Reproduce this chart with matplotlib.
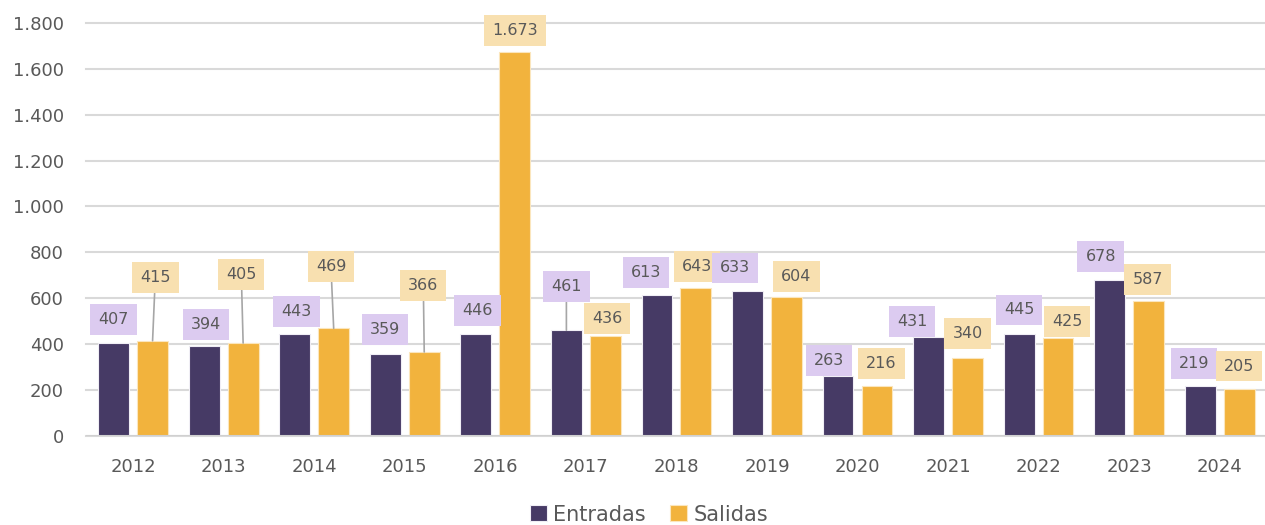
import matplotlib.pyplot as plt
import numpy as np

years = ['2012', '2013', '2014', '2015', '2016', '2017', '2018',
         '2019', '2020', '2021', '2022', '2023', '2024']
entradas = [407, 394, 443, 359, 446, 461, 613, 633, 263, 431, 445, 678, 219]
salidas = [415, 405, 469, 366, 1673, 436, 643, 604, 216, 340, 425, 587, 205]

# where the value boxes sit (x shift from bar centre, y in data units)
ent_lab_dx = [0, 0.02, 0.02, 0, 0.02, 0, -0.12, -0.14, -0.1, -0.18, 0, -0.1, -0.07]
ent_lab_y = [506, 484, 541, 462, 545, 650, 711, 732, 331, 497, 549, 780, 314]
ent_leader = [0, 0, 0, 0, 0, 1, 0, 0, 0, 0, 0, 0, 0]
sal_lab_dx = [0.03, -0.02, -0.03, -0.01, 0, 0.02, 0.01, 0.11, 0.05, 0, 0.1, -0.01, 0]
sal_lab_y = [689, 702, 737, 654, 1765, 514, 737, 693, 314, 445, 497, 680, 305]
sal_leader = [1, 1, 1, 1, 0, 0, 0, 0, 0, 0, 0, 0, 0]

c_ent = '#463a65'
c_sal = '#f2b33d'
box_ent = '#dccbf0'
box_sal = '#f8e0b0'
txt = '#595959'

plt.rcParams['font.family'] = ['DejaVu Sans']

fig = plt.figure(figsize=(12.65, 5.25), dpi=100)
ax = fig.add_axes([0.068, 0.1695, 0.932, 0.787])

x = np.arange(len(years))
w = 0.34
off = 0.215
ax.bar(x - off, entradas, w, color=c_ent, edgecolor='#f0eef5', linewidth=0.8, label='Entradas', zorder=3)
ax.bar(x + off, salidas, w, color=c_sal, edgecolor='#fbe6bd', linewidth=0.8, label='Salidas', zorder=3)

def put_label(xb, val, dx, ly, fc, leader):
    s = f'{val:,}'.replace(',', '.')
    arrow = None
    if leader:
        arrow = dict(arrowstyle='-', color='#a6a6a6', lw=1.2, shrinkA=0, shrinkB=0)
    ax.annotate(s, xy=(xb, val), xytext=(xb + dx, ly), ha='center', va='center',
                fontsize=11.5, color=txt, zorder=5,
                bbox=dict(boxstyle='square,pad=0.5', fc=fc, ec='none'),
                arrowprops=arrow)

for i in range(len(years)):
    put_label(x[i] - off, entradas[i], ent_lab_dx[i], ent_lab_y[i], box_ent, ent_leader[i])
    put_label(x[i] + off, salidas[i], sal_lab_dx[i], sal_lab_y[i], box_sal, sal_leader[i])

ax.set_xlim(-0.52, 12.5)
ax.set_ylim(0, 1800)
ax.set_yticks(np.arange(0, 1801, 200))
ax.set_yticklabels([f'{v:,}'.replace(',', '.') for v in range(0, 1801, 200)])
ax.set_xticks(x)
ax.set_xticklabels(years)
ax.tick_params(axis='both', length=0, labelsize=13, colors=txt)
ax.tick_params(axis='x', pad=16)
ax.tick_params(axis='y', pad=16)
ax.grid(axis='y', color='#d9d9d9', linewidth=1.5, zorder=0)
for gl in ax.get_ygridlines():
    gl.set_clip_on(False)
ax.axhline(0, color='#d0d0d0', linewidth=1.5, zorder=4)
for sp in ax.spines.values():
    sp.set_visible(False)

leg = fig.legend(loc='lower center', bbox_to_anchor=(0.513, -0.035), ncol=2, frameon=False,
                 fontsize=15, handlelength=0.8, handleheight=0.8, handletextpad=0.3,
                 columnspacing=1.2, labelcolor=txt)

fig.savefig('out.png', dpi=100)
